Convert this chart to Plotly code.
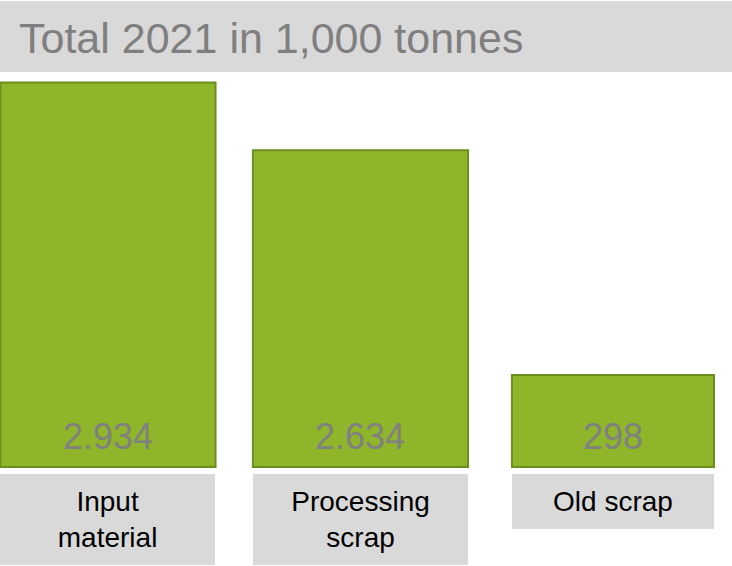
import plotly.graph_objects as go

# ---- data ----
categories = ["Input<br>material", "Processing<br>scrap", "Old scrap"]
values_kt = [2934, 2634, 298]            # total 2021, in 1,000 tonnes (shown as labels)
bar_length_index = [100, 82.4, 23.9]     # visual bar lengths as drawn in the reference (first bar = 100)
title_text = "Total 2021 in 1,000 tonnes"

# ---- styles ----
FONT = "Liberation Sans, Arial, sans-serif"
GREEN = "#8FB52A"
GREEN_EDGE = "#6B8E1E"
BOX_GRAY = "#D9D9D9"
TEXT_GRAY = "#7F7F7F"
bar_widths = [0.852, 0.852, 0.80]
label_box_heights = [91, 91, 55]

def fmt(v):
    return f"{v:,}".replace(",", ".")

fig = go.Figure()
fig.add_trace(go.Bar(
    x=categories,
    y=bar_length_index,
    width=bar_widths,
    marker=dict(color=GREEN, line=dict(color=GREEN_EDGE, width=2)),
    hoverinfo="skip",
))

annotations = []
# value labels at the foot of each bar
for cat, v in zip(categories, values_kt):
    annotations.append(dict(
        x=cat, y=0, xref="x", yref="y",
        xanchor="center", yanchor="bottom", yshift=8,
        text=fmt(v), showarrow=False,
        font=dict(family=FONT, size=36, color="#808080"),
    ))
# category label boxes below the bars
pad = 9
for cat, w, h in zip(categories, bar_widths, label_box_heights):
    px_w = w * 252.5
    annotations.append(dict(
        x=cat, y=0, xref="x", yref="y",
        xanchor="center", yanchor="top", yshift=-7,
        text=cat, showarrow=False,
        width=px_w - 2 * pad, height=h - 2 * pad, borderpad=pad, borderwidth=0,
        bgcolor=BOX_GRAY, align="center", valign="middle",
        font=dict(family=FONT, size=28, color="#000000"),
    ))
# title
annotations.append(dict(
    x=17 / 732, y=1 - 37.8 / 566, xref="paper", yref="paper",
    xanchor="left", yanchor="middle",
    text=title_text, showarrow=False,
    font=dict(family=FONT, size=43, color=TEXT_GRAY),
))

fig.update_layout(
    width=732, height=566,
    margin=dict(l=0, r=0, t=0, b=0),
    paper_bgcolor="white", plot_bgcolor="white",
    showlegend=False,
    xaxis=dict(range=[-0.4276, 2.4714], visible=False, fixedrange=True),
    yaxis=dict(range=[-25.75, 121.46], visible=False, fixedrange=True),
    annotations=annotations,
    shapes=[dict(
        type="rect", xref="paper", yref="paper",
        x0=0, x1=1, y0=1 - 72 / 566, y1=1 - 1 / 566,
        fillcolor=BOX_GRAY, line=dict(width=0), layer="below",
    )],
)

fig.write_html("out.html")
